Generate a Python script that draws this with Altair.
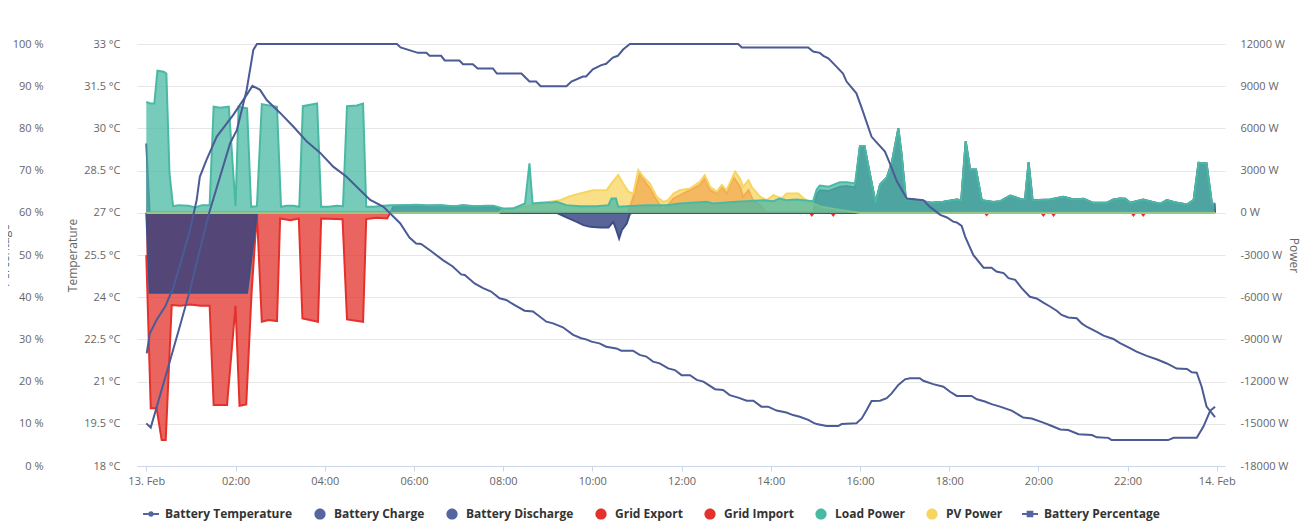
import altair as alt
import pandas as pd

BASE = pd.Timestamp("2024-02-13 00:00:00")

SERIES = ["Battery Temperature", "Battery Charge", "Battery Discharge", "Grid Export",
          "Grid Import", "Load Power", "PV Power", "Battery Percentage"]

# (hour of day, value) pairs
BATTERY_TEMPERATURE = [
    (0.01, 22.0), (0.08, 22.72), (0.23, 23.19), (0.43, 23.69), (0.61, 24.37), (0.79, 25.32),
    (0.98, 26.39), (1.13, 27.46), (1.2, 28.28), (1.35, 28.88), (1.58, 29.71), (1.95, 30.48),
    (2.25, 31.19), (2.38, 31.51), (2.55, 31.37), (2.7, 31.01), (3.0, 30.55), (3.3, 30.06),
    (3.6, 29.53), (3.9, 29.13), (4.19, 28.64), (4.49, 28.28), (4.79, 27.81), (5.02, 27.46),
    (5.31, 27.22), (5.69, 26.63), (5.9, 26.12), (6.05, 25.91), (6.16, 25.89), (6.35, 25.68),
    (6.65, 25.32), (6.87, 25.09), (7.06, 24.81), (7.14, 24.79), (7.36, 24.49), (7.55, 24.32),
    (7.73, 24.2), (7.92, 23.96), (8.07, 23.9), (8.26, 23.72), (8.48, 23.52), (8.67, 23.49),
    (8.97, 23.13), (9.12, 23.07), (9.34, 22.93), (9.57, 22.66), (9.75, 22.54), (9.86, 22.5),
    (9.98, 22.42), (10.16, 22.36), (10.31, 22.24), (10.54, 22.18), (10.65, 22.1), (10.91, 22.1),
    (11.06, 21.95), (11.21, 21.89), (11.36, 21.71), (11.51, 21.65), (11.7, 21.47), (11.85, 21.41),
    (12.0, 21.23), (12.19, 21.23), (12.34, 21.06), (12.49, 21.0), (12.75, 20.73), (12.93, 20.7),
    (13.08, 20.52), (13.27, 20.43), (13.46, 20.32), (13.61, 20.32), (13.79, 20.11), (13.94, 20.11),
    (14.13, 19.97), (14.35, 19.9), (14.5, 19.81), (14.65, 19.75), (14.84, 19.64), (14.95, 19.54),
    (15.03, 19.49), (15.25, 19.42), (15.51, 19.42), (15.59, 19.49), (15.92, 19.52), (16.04, 19.69),
    (16.15, 19.99), (16.26, 20.31), (16.45, 20.32), (16.6, 20.41), (16.71, 20.58), (16.86, 20.88),
    (17.01, 21.08), (17.12, 21.12), (17.34, 21.12), (17.42, 21.03), (17.64, 20.91), (17.87, 20.82),
    (18.02, 20.64), (18.17, 20.49), (18.5, 20.49), (18.62, 20.37), (18.8, 20.29), (18.95, 20.2),
    (19.14, 20.11), (19.4, 19.97), (19.66, 19.72), (19.85, 19.69), (20.11, 19.54), (20.26, 19.45),
    (20.49, 19.3), (20.67, 19.28), (20.9, 19.13), (21.2, 19.1), (21.31, 19.02), (21.57, 19.0),
    (21.64, 18.92), (22.91, 18.92), (23.03, 19.0), (23.55, 19.0), (23.7, 19.4), (23.85, 19.96),
    (23.96, 20.11),
]

BATTERY_PERCENTAGE = [
    (0.0, 10.1), (0.1, 9.1), (0.43, 21.2), (0.76, 33.4), (0.98, 41.7), (1.2, 51.2), (1.41, 60.0),
    (1.88, 76.5), (2.03, 79.6), (2.25, 89.1), (2.4, 98.6), (2.48, 100), (5.62, 100), (5.7, 99.2),
    (6.09, 97.9), (6.28, 97.9), (6.35, 97.2), (6.61, 97.2), (6.69, 96.1), (7.02, 96.1), (7.1, 95.2),
    (7.32, 95.2), (7.43, 94.2), (7.77, 94.2), (7.86, 93.0), (8.41, 93.0), (8.59, 91.1), (8.74, 91.1),
    (8.84, 90.0), (9.42, 90.0), (9.53, 91.1), (9.79, 92.3), (9.86, 92.3), (10.01, 94.0), (10.2, 95.0),
    (10.31, 95.3), (10.46, 96.8), (10.57, 97.2), (10.69, 98.7), (10.84, 100), (13.27, 100),
    (13.35, 99.2), (14.84, 99.2), (14.95, 98.2), (15.1, 97.9), (15.18, 97.2), (15.29, 96.6),
    (15.44, 95.0), (15.62, 93.0), (15.7, 91.1), (15.92, 88.3), (16.04, 84.8), (16.26, 78.0),
    (16.56, 74.5), (16.67, 71.7), (16.83, 67.4), (17.05, 63.4), (17.42, 63.0), (17.57, 61.4),
    (17.8, 59.5), (17.95, 58.9), (18.09, 57.9), (18.17, 57.7), (18.28, 56.9), (18.36, 54.3),
    (18.54, 50.0), (18.77, 47.0), (18.95, 47.0), (19.06, 46.1), (19.22, 45.7), (19.33, 44.5),
    (19.48, 44.1), (19.63, 42.1), (19.81, 40.1), (19.96, 39.7), (20.11, 38.7), (20.26, 37.8),
    (20.41, 36.8), (20.52, 35.8), (20.67, 35.2), (20.86, 35.0), (20.97, 33.8), (21.08, 33.0),
    (21.31, 31.8), (21.46, 30.9), (21.68, 30.1), (21.83, 29.1), (22.02, 28.1), (22.2, 27.1),
    (22.43, 26.1), (22.65, 25.3), (22.88, 24.3), (23.1, 23.1), (23.33, 23.0), (23.44, 22.2),
    (23.55, 22.1), (23.66, 18.8), (23.77, 14.1), (23.92, 12.1), (23.96, 11.6),
]

LOAD_POWER = [
    (0, 7890), (0.09, 7770), (0.18, 7770), (0.25, 10100), (0.39, 10030), (0.45, 9900), (0.52, 2800),
    (0.6, 474), (0.72, 545), (0.95, 500), (1.1, 380), (1.25, 545), (1.42, 545), (1.51, 7540),
    (1.66, 7470), (1.85, 7540), (2.0, 474), (2.07, 7540), (2.26, 7420), (2.35, 427), (2.48, 474),
    (2.59, 7730), (2.93, 7540), (3.02, 427), (3.15, 500), (3.3, 500), (3.43, 427), (3.51, 7580),
    (3.83, 7770), (3.92, 427), (4.09, 427), (4.27, 500), (4.41, 474), (4.5, 7580), (4.72, 7630),
    (4.86, 7770), (4.93, 427), (5.1, 427), (5.32, 500), (5.47, 545), (5.77, 545), (6.07, 570),
    (6.3, 520), (6.6, 545), (6.9, 470), (7.1, 545), (7.4, 470), (7.6, 500), (7.78, 500), (8.0, 308),
    (8.23, 308), (8.49, 660), (8.59, 3510), (8.66, 660), (8.82, 710), (8.97, 735), (9.1, 735),
    (9.2, 780), (9.42, 545), (9.72, 474), (10.1, 474), (10.36, 545), (10.43, 1020), (10.53, 1020),
    (10.58, 427), (10.77, 474), (11.22, 545), (11.67, 545), (11.96, 660), (12.56, 780), (12.71, 660),
    (13.23, 780), (13.46, 830), (13.83, 900), (14.06, 830), (14.2, 1020), (14.35, 900), (14.58, 950),
    (14.95, 830), (15.03, 1660), (15.1, 1940), (15.3, 1850), (15.55, 2180), (15.7, 2180),
    (15.89, 2090), (16.0, 4740), (16.1, 4740), (16.22, 2800), (16.35, 710), (16.45, 2010),
    (16.6, 2490), (16.71, 3510), (16.86, 6000), (16.93, 4220), (17.03, 950), (17.2, 950),
    (17.42, 830), (17.6, 710), (17.87, 780), (18.17, 950), (18.27, 900), (18.37, 5100), (18.47, 3080),
    (18.6, 3080), (18.73, 900), (18.99, 760), (19.15, 830), (19.37, 1230), (19.63, 950), (19.7, 950),
    (19.78, 3600), (19.87, 900), (20.26, 950), (20.56, 1140), (20.79, 950), (21.01, 1000),
    (21.23, 710), (21.53, 710), (21.68, 950), (21.83, 1020), (21.95, 1000), (22.06, 710),
    (22.35, 950), (22.58, 760), (22.73, 640), (22.88, 900), (23.05, 760), (23.33, 590), (23.48, 900),
    (23.59, 3550), (23.77, 3510), (23.89, 660), (23.95, 640),
]

BATTERY_DISCHARGE = [
    (0, 4930), (0.075, 0), (5.47, 0), (5.55, 480), (5.77, 520), (6.07, 540), (6.3, 500), (6.6, 520),
    (6.9, 450), (7.1, 520), (7.4, 450), (7.6, 480), (7.78, 470), (7.95, 280), (8.05, 0), (14.95, 0),
    (15.03, 1300), (15.1, 1600), (15.3, 1550), (15.55, 1850), (15.7, 1900), (15.89, 1800),
    (16.0, 4740), (16.1, 4740), (16.22, 2800), (16.35, 710), (16.45, 2010), (16.6, 2490),
    (16.71, 3510), (16.86, 6000), (16.93, 4220), (17.03, 950), (17.2, 950), (17.42, 830),
    (17.6, 710), (17.87, 780), (18.17, 950), (18.27, 900), (18.37, 5100), (18.47, 3080),
    (18.6, 3080), (18.73, 900), (18.99, 760), (19.15, 830), (19.37, 1230), (19.63, 950), (19.7, 950),
    (19.78, 3600), (19.87, 900), (20.26, 950), (20.56, 1140), (20.79, 950), (21.01, 1000),
    (21.23, 710), (21.53, 710), (21.68, 950), (21.83, 1020), (21.95, 1000), (22.06, 710),
    (22.35, 950), (22.58, 760), (22.73, 640), (22.88, 900), (23.05, 760), (23.33, 590), (23.48, 900),
    (23.59, 3550), (23.77, 3510), (23.89, 660), (23.95, 640), (23.96, 0),
]

BATTERY_CHARGE = [
    (0, 0), (0.075, -5690), (2.26, -5690), (2.48, 0), (9.2, 0), (9.42, -330), (9.65, -640),
    (9.8, -880), (9.95, -1000), (10.17, -1040), (10.36, -1040), (10.47, -640), (10.54, -1230),
    (10.6, -1820), (10.66, -1230), (10.77, -760), (10.84, -100), (10.88, 0), (23.96, 0),
]

GRID_IMPORT = [
    (0, -3010), (0.1, -13900), (0.23, -13900), (0.345, -16160), (0.435, -16160), (0.57, -6560),
    (0.76, -6610), (0.99, -6520), (1.21, -6610), (1.42, -6610), (1.51, -13670), (1.81, -13670),
    (2.0, -6610), (2.09, -13720), (2.24, -13630), (2.36, -5700), (2.48, 0), (2.59, -7750),
    (2.74, -7630), (2.93, -7700), (3.0, -400), (3.23, -520), (3.42, -400), (3.5, -7510),
    (3.85, -7750), (3.92, -400), (4.4, -450), (4.5, -7580), (4.86, -7750), (4.93, -450),
    (5.17, -355), (5.4, -400), (5.47, 0), (14.88, 0), (14.92, -180), (14.96, 0), (15.36, 0),
    (15.4, -180), (15.44, 0), (18.8, 0), (18.84, -150), (18.88, 0), (20.07, 0), (20.11, -180),
    (20.15, 0), (20.3, 0), (20.34, -180), (20.38, 0), (22.09, 0), (22.13, -180), (22.17, 0),
    (22.31, 0), (22.35, -180), (22.39, 0), (23.96, 0),
]

GRID_EXPORT = [
    (0, 0), (10.8, 0), (10.92, 1140), (11.07, 2800), (11.18, 2200), (11.29, 1730), (11.44, 900),
    (11.59, 200), (11.82, 1020), (12.11, 1490), (12.41, 1970), (12.52, 2440), (12.64, 1610),
    (12.79, 1370), (12.9, 1850), (13.01, 1370), (13.16, 2560), (13.31, 1850), (13.38, 1140),
    (13.5, 1610), (13.6, 900), (13.76, 550), (13.9, 0), (23.96, 0),
]

PV_POWER = [
    (0, 0), (7.9, 0), (8.0, 250), (8.5, 450), (9.05, 780), (9.28, 900), (9.5, 1185), (9.72, 1375),
    (10.02, 1610), (10.32, 1610), (10.43, 2085), (10.58, 2680), (10.69, 2085), (10.81, 1490),
    (10.92, 1370), (11.03, 3030), (11.14, 2560), (11.29, 2085), (11.44, 1140), (11.59, 780),
    (11.7, 900), (11.82, 1370), (11.96, 1600), (12.19, 1730), (12.41, 2200), (12.52, 2680),
    (12.64, 1850), (12.79, 1490), (12.9, 1970), (13.01, 1610), (13.2, 2915), (13.31, 2440),
    (13.38, 1850), (13.5, 2320), (13.57, 1850), (13.76, 1140), (13.91, 900), (14.06, 1250),
    (14.24, 1020), (14.36, 1370), (14.62, 1370), (14.69, 1140), (14.8, 900), (15.1, 450),
    (15.55, 200), (16.0, 0), (23.96, 0),
]

POWER_TICKS = [-18000, -15000, -12000, -9000, -6000, -3000, 0, 3000, 6000, 9000, 12000]
TEMP_TICKS = [18, 19.5, 21, 22.5, 24, 25.5, 27, 28.5, 30, 31.5, 33]
PCT_TICKS = [0, 10, 20, 30, 40, 50, 60, 70, 80, 90, 100]
X_TICK_HOURS = [0, 2, 4, 6, 8, 10, 12, 14, 16, 18, 20, 22, 24]

NAVY = "#55659e"
NAVY_LINE = "#4b5b95"
NAVY_FILL = "#2e3f7c"
RED = "#e4312b"
TEAL = "#4ab9a4"
YELLOW = "#f7d560"
LEGEND_COLORS = [NAVY, NAVY, NAVY, RED, RED, TEAL, YELLOW, NAVY]
CIRCLE = "M -0.7 0 A 0.7 0.7 0 1 1 0.7 0 A 0.7 0.7 0 1 1 -0.7 0 Z"
LINE_DOT = ("M -1 -0.12 L 1 -0.12 L 1 0.12 L -1 0.12 Z "
            "M -0.35 0 A 0.35 0.35 0 1 1 0.35 0 A 0.35 0.35 0 1 1 -0.35 0 Z")
LINE_SQUARE = ("M -1 -0.12 L 1 -0.12 L 1 0.12 L -1 0.12 Z "
               "M -0.42 -0.42 L 0.42 -0.42 L 0.42 0.42 L -0.42 0.42 Z")
LEGEND_SHAPES = [LINE_DOT, CIRCLE, CIRCLE, CIRCLE, CIRCLE, CIRCLE, CIRCLE, LINE_SQUARE]


def frame(pairs):
    return pd.DataFrame({
        "t": [BASE + pd.Timedelta(hours=h) for h, _ in pairs],
        "v": [v for _, v in pairs],
    })


def dt(h):
    d = 13 + h // 24
    return alt.DateTime(year=2024, month=2, date=int(d), hours=int(h % 24))


X = alt.X(
    "t:T",
    title=None,
    scale=alt.Scale(domain=[
        alt.DateTime(year=2024, month=2, date=12, hours=23, minutes=47, seconds=30),
        alt.DateTime(year=2024, month=2, date=14, hours=0, minutes=11, seconds=0),
    ]),
    axis=alt.Axis(
        values=[dt(h) for h in X_TICK_HOURS],
        labelExpr="hours(datum.value) == 0 ? timeFormat(datum.value, '%d. %b') : timeFormat(datum.value, '%H:%M')",
        grid=False, domainColor="#ccd6eb", tickColor="#ccd6eb", tickSize=5, labelPadding=4,
        labelFlush=False, labelOverlap=False,
    ),
)

PY = alt.Y(
    "v:Q",
    title="Power",
    scale=alt.Scale(domain=[-18000, 12000], nice=False, zero=False),
    axis=alt.Axis(orient="right", values=POWER_TICKS, labelExpr="datum.value + ' W'",
                  grid=True, gridColor="#e6e6e6", domain=False, ticks=False,
                  labelPadding=15, titleX=68, titleY=211, titleAngle=90,
                  titleBaseline="middle", titleAlign="center"),
)

TY = alt.Y(
    "v:Q",
    title="Temperature",
    scale=alt.Scale(domain=[18, 33], nice=False, zero=False),
    axis=alt.Axis(orient="left", values=TEMP_TICKS, labelExpr="datum.value + ' °C'",
                  grid=False, domain=False, ticks=False, labelPadding=17, titlePadding=4),
)

CY = alt.Y(
    "v:Q",
    title="Percentage",
    scale=alt.Scale(domain=[0, 100], nice=False, zero=False),
    axis=alt.Axis(orient="left", offset=77, values=PCT_TICKS, labelExpr="datum.value + ' %'",
                  grid=False, domain=False, ticks=False, labelPadding=17, titlePadding=1),
)


def area_pair(pairs, fill, opacity, stroke):
    base = alt.Chart(frame(pairs)).encode(x=X, y=PY, y2=alt.datum(0))
    line = alt.Chart(frame(pairs)).encode(x=X, y=PY)
    return [
        base.mark_area(color=fill, opacity=opacity),
        line.mark_line(color=stroke, strokeWidth=2),
    ]


power_layers = []
power_layers += area_pair(GRID_IMPORT, RED, 0.75, RED)
power_layers += area_pair(GRID_EXPORT, RED, 0.75, RED)
power_layers += area_pair(BATTERY_CHARGE, NAVY_FILL, 0.8, "#3d4d88")
power_layers += area_pair(BATTERY_DISCHARGE, NAVY_FILL, 0.8, "#3d4d88")
power_layers += area_pair(PV_POWER, YELLOW, 0.75, YELLOW)
power_layers += area_pair(LOAD_POWER, TEAL, 0.75, TEAL)
power = alt.layer(*power_layers)

temp_line = alt.Chart(frame(BATTERY_TEMPERATURE)).mark_line(
    color=NAVY_LINE, strokeWidth=2).encode(x=X, y=TY)
pct_line = alt.Chart(frame(BATTERY_PERCENTAGE)).mark_line(
    color=NAVY_LINE, strokeWidth=2).encode(x=X, y=CY)

LEG = alt.Legend(
    title=None, orient="none", legendX=6, legendY=462, direction="horizontal", columns=8,
    symbolSize=256, symbolStrokeWidth=0, symbolOpacity=1, labelFont="Open Sans",
    labelFontSize=12, labelFontWeight="bold", labelColor="#333333", columnPadding=19,
    labelOffset=6, padding=0, offset=0,
)
legend_layer = alt.Chart(pd.DataFrame({"s": SERIES})).mark_point(filled=True, opacity=0).encode(
    color=alt.Color("s:N", scale=alt.Scale(domain=SERIES, range=LEGEND_COLORS), legend=LEG),
    shape=alt.Shape("s:N", scale=alt.Scale(domain=SERIES, range=LEGEND_SHAPES), legend=LEG),
)

chart = alt.layer(power, temp_line, pct_line, legend_layer).resolve_scale(
    y="independent"
).properties(
    width=1088, height=422,
    autosize=alt.AutoSizeParams(type="none"),
    padding={"left": 129, "top": 36, "right": 78, "bottom": 56},
).configure_axis(
    labelFont="Open Sans", labelFontSize=11, labelColor="#666666",
    titleFont="Open Sans", titleFontSize=12, titleColor="#666666", titleFontWeight="normal",
).configure_view(strokeWidth=0)

chart.save("out.html", embed_options={"renderer": "svg", "actions": False})
